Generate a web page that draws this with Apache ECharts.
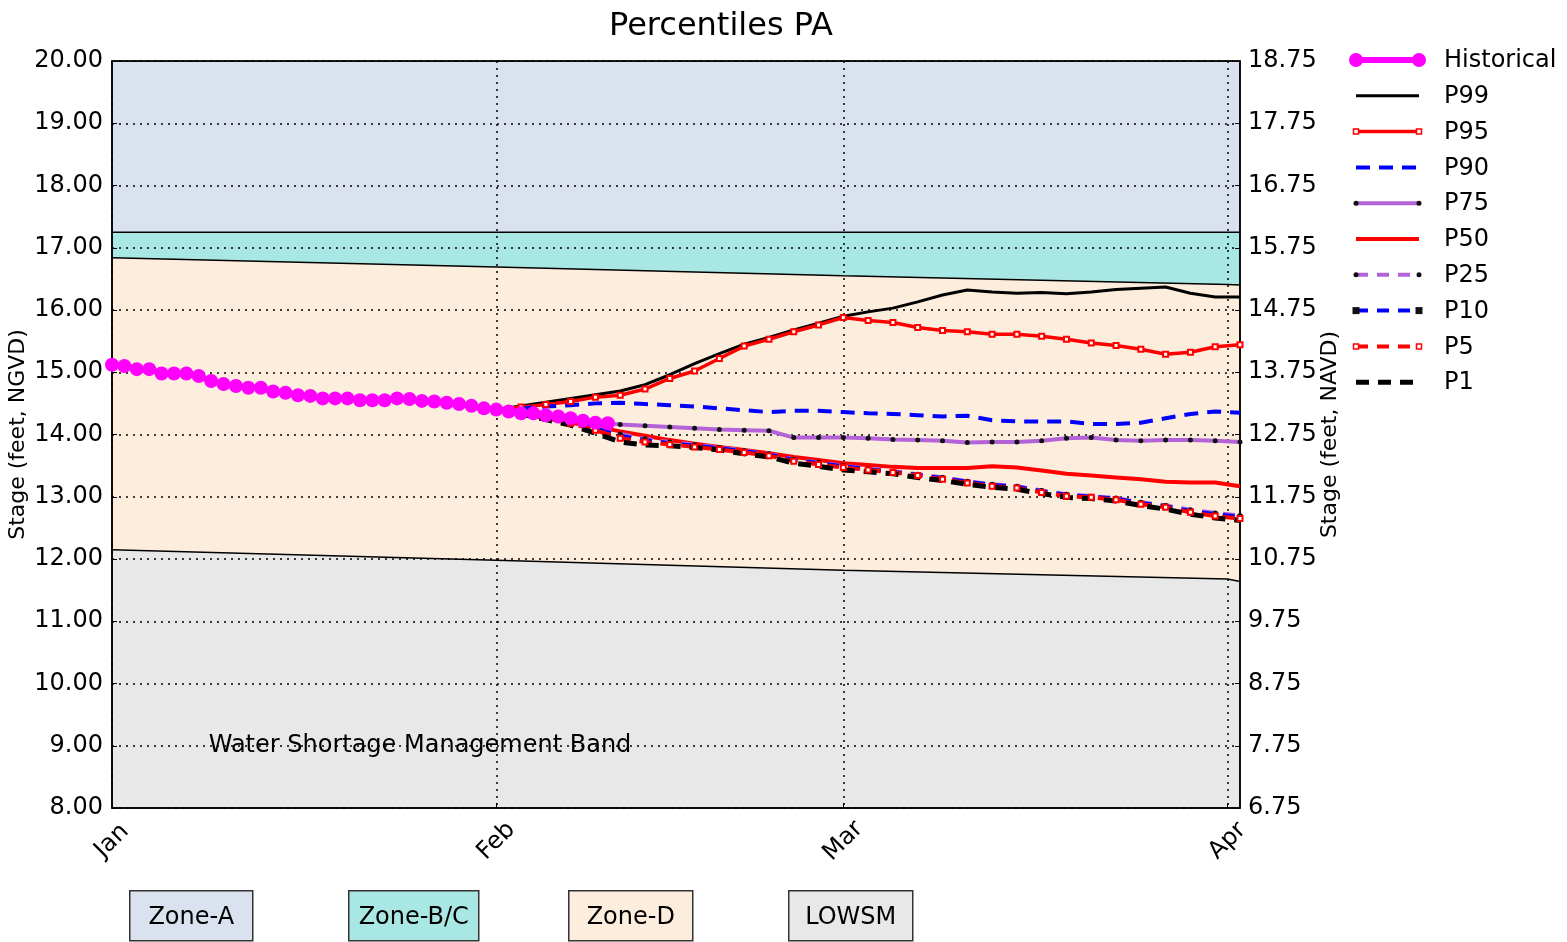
<!DOCTYPE html>
<html>
<head>
<meta charset="utf-8">
<script src="https://cdn.jsdelivr.net/npm/echarts@6/dist/echarts.min.js"></script>
<style>
html,body{margin:0;padding:0;background:#fff;}
#chart{width:1567px;height:942px;}
</style>
</head>
<body>
<div id="chart"></div>
<script>
// ---------- data ----------
var monthTickDays = [0, 31, 59, 90];
var monthTickLabels = ['Jan', 'Feb', 'Mar', 'Apr'];
var navdOffset = 1.25;

// zone boundaries (day of year from Jan 1)
var zoneDays = [0, 31, 59, 90, 91];
var zoneLowerLine = [12.15, 11.98, 11.82, 11.68, 11.64];   // LOWSM / Zone-D
var zoneUpperLine = [16.84, 16.69, 16.55, 16.41, 16.40];   // Zone-D / Zone-B/C
var zoneALine = [17.25, 17.25, 17.25, 17.25, 17.25];       // Zone-B/C / Zone-A
var zoneTop = [20, 20, 20, 20, 20];

// historical daily stage (Jan 1 .. Feb 10)
var histDays = [0,1,2,3,4,5,6,7,8,9,10,11,12,13,14,15,16,17,18,19,20,21,22,23,24,25,26,27,28,29,30,31,32,33,34,35,36,37,38,39,40];
var histValues = [15.12,15.10,15.05,15.05,14.98,14.98,14.98,14.94,14.86,14.81,14.78,14.75,14.75,14.69,14.67,14.63,14.62,14.58,14.58,14.58,14.55,14.55,14.55,14.58,14.57,14.54,14.53,14.51,14.49,14.46,14.42,14.40,14.37,14.34,14.34,14.31,14.29,14.26,14.22,14.19,14.18];

// percentile forecasts, every 2 days from Feb 1 (day 31) to Apr 2 (day 91)
var pctDays = [31,33,35,37,39,41,43,45,47,49,51,53,55,57,59,61,63,65,67,69,71,73,75,77,79,81,83,85,87,89,91];
var p99 = [14.40,14.46,14.52,14.58,14.64,14.70,14.80,14.96,15.14,15.30,15.45,15.56,15.68,15.79,15.90,15.97,16.03,16.13,16.24,16.32,16.29,16.27,16.28,16.26,16.29,16.33,16.35,16.37,16.27,16.21,16.21];
var p95 = [14.40,14.44,14.48,14.53,14.60,14.63,14.73,14.90,15.02,15.22,15.42,15.53,15.65,15.76,15.88,15.83,15.80,15.72,15.67,15.65,15.61,15.61,15.58,15.53,15.47,15.43,15.37,15.29,15.32,15.41,15.44];
var p90 = [14.40,14.42,14.45,14.47,14.50,14.51,14.49,14.47,14.45,14.42,14.39,14.36,14.38,14.38,14.36,14.34,14.33,14.31,14.29,14.30,14.23,14.21,14.21,14.21,14.17,14.17,14.19,14.26,14.33,14.37,14.35];
var p75 = [14.40,14.37,14.32,14.27,14.21,14.16,14.14,14.12,14.10,14.08,14.07,14.06,13.95,13.95,13.95,13.94,13.92,13.91,13.90,13.87,13.88,13.88,13.90,13.94,13.95,13.91,13.90,13.91,13.91,13.90,13.88];
var p50 = [14.40,14.34,14.26,14.19,14.13,14.05,13.98,13.91,13.85,13.80,13.75,13.70,13.64,13.59,13.54,13.51,13.48,13.46,13.46,13.46,13.49,13.47,13.42,13.37,13.34,13.31,13.28,13.24,13.23,13.23,13.17];
var p25 = [14.40,14.35,14.29,14.22,14.12,14.01,13.93,13.88,13.84,13.79,13.74,13.69,13.60,13.55,13.50,13.45,13.41,13.36,13.31,13.25,13.20,13.17,13.10,13.04,13.01,12.98,12.91,12.86,12.79,12.74,12.70];
var p10 = [14.40,14.35,14.28,14.20,14.10,13.98,13.91,13.86,13.82,13.78,13.73,13.68,13.59,13.54,13.49,13.44,13.40,13.35,13.30,13.24,13.19,13.16,13.09,13.03,13.00,12.97,12.90,12.85,12.77,12.72,12.68];
var p5  = [14.40,14.34,14.26,14.18,14.07,13.94,13.88,13.84,13.80,13.76,13.71,13.66,13.57,13.52,13.47,13.43,13.39,13.34,13.28,13.22,13.17,13.14,13.07,13.01,12.99,12.95,12.88,12.83,12.75,12.69,12.65];
var p1  = [14.40,14.33,14.24,14.15,14.02,13.88,13.83,13.82,13.79,13.75,13.69,13.64,13.54,13.49,13.43,13.40,13.37,13.31,13.26,13.20,13.15,13.12,13.05,12.99,12.97,12.93,12.86,12.80,12.72,12.66,12.62];

var zoneNames = ['Zone-A', 'Zone-B/C', 'Zone-D', 'LOWSM'];
var legendNames = ['Historical', 'P99', 'P95', 'P90', 'P75', 'P50', 'P25', 'P10', 'P5', 'P1'];

// ---------- styles ----------
var FONT = 'DejaVu Sans';
var zoneColors = ['#d9e2ee', '#a8e7e3', '#fdeddd', '#e8e8e8'];
var styles = {
  'Historical': { color: '#ff00ff', width: 6, type: 'solid', symbol: 'circle', size: 14, symColor: '#ff00ff', empty: false },
  'P99': { color: '#000000', width: 3, type: 'solid' },
  'P95': { color: '#ff0000', width: 3.5, type: 'solid', symbol: 'rect', size: 5, symColor: '#ff0000', empty: true },
  'P90': { color: '#0000ff', width: 4, type: [14, 9] },
  'P75': { color: '#b462d8', width: 4, type: 'solid', symbol: 'circle', size: 5, symColor: '#111111', empty: false },
  'P50': { color: '#ff0000', width: 4, type: 'solid' },
  'P25': { color: '#b462d8', width: 4, type: [12, 9], symbol: 'circle', size: 5, symColor: '#111111', empty: false },
  'P10': { color: '#0000ff', width: 4, type: [12, 9], symbol: 'rect', size: 5, symColor: '#111111', empty: false },
  'P5': { color: '#ff0000', width: 4, type: [12, 9], symbol: 'rect', size: 5, symColor: '#ff0000', empty: true },
  'P1': { color: '#000000', width: 5, type: [13, 9] }
};

function pairs(xs, ys) { return xs.map(function (x, i) { return [x, ys[i]]; }); }

var chart = echarts.init(document.getElementById('chart'), null, { renderer: 'canvas' });

function zoneSeries(name, vals, color, extra) {
  var s = {
    name: name, type: 'line', data: pairs(zoneDays, vals), z: 0,
    symbol: 'none', silent: true, animation: false,
    lineStyle: { color: '#000', width: 1.5 },
    areaStyle: { color: color, opacity: 1, origin: 'start' }
  };
  if (extra) for (var k in extra) s[k] = extra[k];
  return s;
}

function lineSeries(name, xs, vals, z) {
  var st = styles[name];
  return {
    name: name, type: 'line', data: pairs(xs, vals), z: z,
    symbol: st.symbol ? (st.empty ? 'emptyRect' : st.symbol) : 'none',
    symbolSize: st.size || 0, showSymbol: !!st.symbol,
    lineStyle: { color: st.color, width: st.width, type: st.type },
    itemStyle: st.empty ? { color: st.symColor, borderColor: st.symColor, borderWidth: 1.5 } : { color: st.symColor || st.color },
    animation: false
  };
}

var option = {
  backgroundColor: '#fff',
  animation: false,
  title: {
    text: 'Percentiles PA', left: 604, top: 6,
    textStyle: { fontFamily: FONT, fontSize: 32, fontWeight: 'normal', color: '#000' }
  },
  grid: {
    left: 112, right: 327, top: 61, bottom: 134,
    outerBoundsMode: 'none', containLabel: false,
    show: true, z: 1, borderColor: '#000', borderWidth: 1.5, backgroundColor: 'transparent'
  },
  xAxis: {
    type: 'value', min: 0, max: 91, z: 1,
    axisLine: { show: true, lineStyle: { color: '#000', width: 1.5 } },
    axisTick: { show: true, inside: true, length: 5, customValues: monthTickDays, lineStyle: { color: '#000' } },
    axisLabel: {
      customValues: monthTickDays, rotate: 45, margin: 33, align: 'center', verticalAlign: 'middle',
      fontFamily: FONT, fontSize: 24, color: '#000',
      formatter: function (v) { var i = monthTickDays.indexOf(v); return i >= 0 ? monthTickLabels[i] : ''; }
    },
    splitLine: { show: true, lineStyle: { color: '#000', type: [2, 5], width: 1.5 } }
  },
  yAxis: [{
    type: 'value', min: 8, max: 20, interval: 1, z: 1, position: 'left',
    name: 'Stage (feet, NGVD)', nameLocation: 'middle', nameGap: 83, nameRotate: 90, nameMoveOverlap: false,
    nameTextStyle: { fontFamily: FONT, fontSize: 22, color: '#000' },
    axisLine: { show: true, lineStyle: { color: '#000', width: 1.5 } },
    axisTick: { show: true, inside: true, length: 5, lineStyle: { color: '#000' } },
    axisLabel: { fontFamily: FONT, fontSize: 24, color: '#000', margin: 9, formatter: function (v) { return v.toFixed(2); } },
    splitLine: { show: true, lineStyle: { color: '#000', type: [2, 5], width: 1.5 } }
  }, {
    type: 'value', min: 8, max: 20, interval: 1, z: 1, position: 'right',
    name: 'Stage (feet, NAVD)', nameLocation: 'middle', nameGap: 79, nameRotate: 90, nameMoveOverlap: false,
    nameTextStyle: { fontFamily: FONT, fontSize: 22, color: '#000' },
    axisLine: { show: true, lineStyle: { color: '#000', width: 1.5 } },
    axisTick: { show: true, inside: true, length: 5, lineStyle: { color: '#000' } },
    axisLabel: { fontFamily: FONT, fontSize: 24, color: '#000', margin: 8, formatter: function (v) { return (v - navdOffset).toFixed(2); } },
    splitLine: { show: false }
  }],
  graphic: [],
  series: [
    zoneSeries('Zone-A', zoneTop, zoneColors[0]),
    zoneSeries('Zone-B/C', zoneALine, zoneColors[1]),
    zoneSeries('Zone-D', zoneUpperLine, zoneColors[2]),
    zoneSeries('LOWSM', zoneLowerLine, zoneColors[3], {
      markPoint: {
        symbol: 'circle', symbolSize: 0, silent: true,
        label: { show: true, position: 'right', distance: 0, formatter: 'Water Shortage Management Band', fontFamily: FONT, fontSize: 24, color: '#000' },
        data: [{ coord: [7.8, 9.0] }]
      }
    }),
    lineSeries('P99', pctDays, p99, 3),
    lineSeries('P95', pctDays, p95, 3),
    lineSeries('P90', pctDays, p90, 3),
    lineSeries('P75', pctDays, p75, 3),
    lineSeries('P50', pctDays, p50, 3),
    lineSeries('P25', pctDays, p25, 3),
    lineSeries('P10', pctDays, p10, 3),
    lineSeries('P5', pctDays, p5, 3),
    lineSeries('P1', pctDays, p1, 3),
    lineSeries('Historical', histDays, histValues, 4)
  ]
};

// ---------- legend (drawn as key graphics, matplotlib style) ----------
var legX0 = 1356, legX1 = 1419, legTextX = 1444, legY0 = 60, legDy = 35.8;
legendNames.forEach(function (n, i) {
  var st = styles[n];
  var y = legY0 + i * legDy;
  var children = [{
    type: 'line', shape: { x1: legX0, y1: y, x2: legX1, y2: y },
    style: { stroke: st.color, lineWidth: st.width, lineDash: st.type === 'solid' ? null : st.type }
  }];
  if (st.symbol) {
    [legX0, legX1].forEach(function (sx) {
      var s = st.size + (n === 'P10' ? 2 : 0);
      if (st.symbol === 'circle') {
        children.push({ type: 'circle', shape: { cx: sx, cy: y, r: s / 2 }, style: { fill: st.symColor } });
      } else {
        children.push({ type: 'rect', shape: { x: sx - s / 2, y: y - s / 2, width: s, height: s },
          style: st.empty ? { fill: '#fff', stroke: st.symColor, lineWidth: 1.5 } : { fill: st.symColor } });
      }
    });
  }
  children.push({ type: 'text', x: legTextX, y: y + 1, style: { text: n, fill: '#000', font: '24px "DejaVu Sans"', textAlign: 'left', textVerticalAlign: 'middle' } });
  option.graphic.push({ type: 'group', children: children, silent: true });
});

// ---------- bottom zone key boxes ----------
var boxX = [129, 348, 568, 788];
var boxW = [123, 130, 124, 124];
zoneNames.forEach(function (n, i) {
  option.graphic.push({
    type: 'group', left: boxX[i], top: 890,
    children: [
      { type: 'rect', shape: { x: 0, y: 0, width: boxW[i], height: 50 }, style: { fill: zoneColors[i], stroke: '#333', lineWidth: 1.5 } },
      { type: 'text', x: boxW[i] / 2, y: 27, style: { text: n, fill: '#000', font: '24px "DejaVu Sans"', textAlign: 'center', textVerticalAlign: 'middle' } }
    ]
  });
});

chart.setOption(option);
</script>
</body>
</html>
